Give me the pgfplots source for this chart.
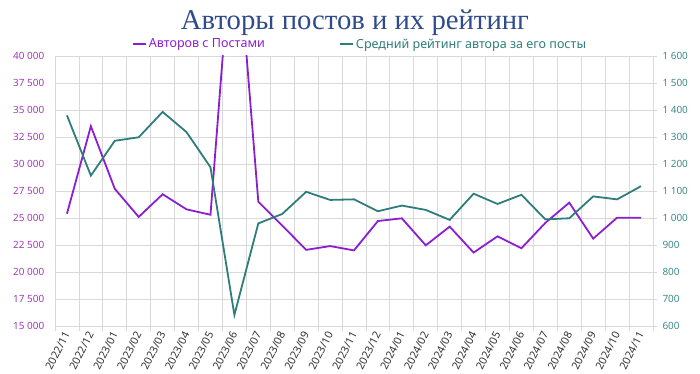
\documentclass[border=0pt]{standalone}
\usepackage{fontspec}
\setmainfont{Noto Sans}
\newfontfamily\titlefont{Liberation Serif}
\usepackage{pgfplots}
\usepackage{pgfplotstable}
\pgfplotsset{compat=1.18}
\definecolor{cpurple}{HTML}{8B1ED1}
\definecolor{cteal}{HTML}{2E7D7A}
\definecolor{lpurple}{HTML}{9E3DB3}
\definecolor{lteal}{HTML}{3D8C88}
\definecolor{gridc}{HTML}{D9D9D9}
\definecolor{titlec}{HTML}{2F4B8C}
\pgfplotstableread{
i a r
0 25400 1380
1 33500 1157
2 27700 1286
3 25100 1299
4 27200 1393
5 25800 1318
6 25300 1188
7 54000 641
8 26500 980
9 24300 1015
10 22050 1097
11 22400 1067
12 22000 1069
13 24720 1025
14 24970 1046
15 22470 1030
16 24200 993
17 21800 1090
18 23300 1052
19 22200 1086
20 24550 995
21 26420 999
22 23090 1080
23 25030 1069
24 25030 1118
}\data
\begin{document}
\begin{tikzpicture}
\path[use as bounding box] (-55bp,-48bp) rectangle (645bp,326bp);
\begin{axis}[
  at={(0,0)}, anchor=south west, scale only axis,
  width=598bp, height=270bp,
  xmin=-0.5, xmax=24.5, ymin=15000, ymax=40000,
  xtick={0,...,24},
  xticklabels={2022/11,2022/12,2023/01,2023/02,2023/03,2023/04,2023/05,2023/06,2023/07,2023/08,2023/09,2023/10,2023/11,2023/12,2024/01,2024/02,2024/03,2024/04,2024/05,2024/06,2024/07,2024/08,2024/09,2024/10,2024/11},
  x tick label style={rotate=63, anchor=east, font=\fontsize{10.8}{12}\selectfont, text=black!80, yshift=-1bp, inner sep=2bp},
  major x tick style={draw=none},
  minor xtick={-0.5,0.5,...,24.5},
  xminorgrids, minor grid style={gridc, line width=0.8bp},
  minor x tick style={gridc, line width=0.8bp},
  minor tick length=5bp, tick align=outside,
  ytick={15000,17500,...,40000},
  ymajorgrids, major grid style={gridc, line width=0.8bp},
  y tick style={draw=none},
  yticklabel style={text=lpurple, font=\fontsize{10}{12}\selectfont, xshift=-3bp},
  axis x line*=bottom, axis y line*=left,
  axis line style={gridc, line width=0.8bp, -},
  scaled y ticks=false,
  /pgf/number format/assume math mode=true,
  /pgf/number format/.cd, fixed, precision=0, 1000 sep={\ },
]
\addplot[cpurple, line width=1.8bp, mark=none] table[x=i, y=a] {\data};
\end{axis}
\begin{axis}[
  at={(0,0)}, anchor=south west, scale only axis,
  width=598bp, height=270bp,
  xmin=-0.5, xmax=24.5, ymin=600, ymax=1600,
  axis x line=none, axis y line*=right,
  axis line style={gridc, line width=0.8bp, -},
  ytick={600,700,...,1600},
  y tick style={gridc, line width=0.8bp},
  major tick length=4bp, tick align=outside,
  yticklabel style={text=lteal, font=\fontsize{10}{12}\selectfont, xshift=2bp},
  scaled y ticks=false,
  /pgf/number format/assume math mode=true,
  /pgf/number format/.cd, fixed, precision=0, 1000 sep={\ },
  /pgfplots/legend columns=2,
  /pgfplots/legend style={at={(0.51,1.044)}, anchor=center, draw=none, fill=none,
    font=\fontsize{12.6}{14}\selectfont, inner sep=0pt,
    /tikz/every even column/.append style={column sep=72bp}},
  /pgfplots/legend image code/.code={\draw[#1, line width=2bp] (-5bp,0bp) -- (8bp,0bp);},
]
\addlegendimage{cpurple}
\addlegendentry{\textcolor{cpurple}{Авторов с Постами}}
\addplot[cteal, line width=1.8bp, mark=none] table[x=i, y=r] {\data};
\addlegendentry{\textcolor{cteal}{Средний рейтинг автора за его посты}}
\end{axis}
\node[font=\titlefont\fontsize{28.8}{34}\selectfont, text=titlec, anchor=base] at (300bp,296bp) {Авторы постов и их рейтинг};
\end{tikzpicture}
\end{document}
